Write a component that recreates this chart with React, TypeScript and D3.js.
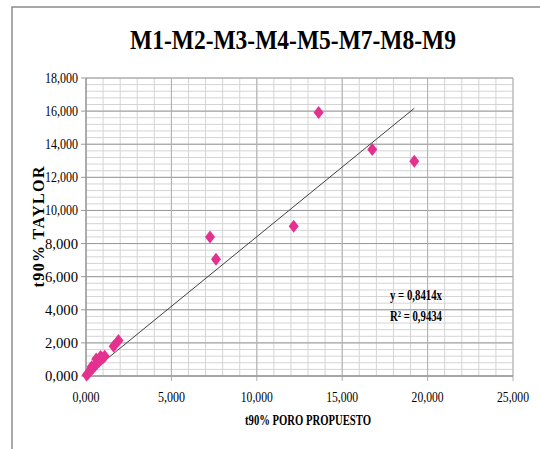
import React from "react";
import * as d3 from "d3";

const title = "M1-M2-M3-M4-M5-M7-M8-M9";
const xTitle = "t90% PORO PROPUESTO";
const yTitle = "t90% TAYLOR";
const xTicks = [0, 5000, 10000, 15000, 20000, 25000];
const yTicks = [0, 2000, 4000, 6000, 8000, 10000, 12000, 14000, 16000, 18000];
const xPoro = [40, 120, 200, 300, 330, 420, 520, 600, 640, 760, 850, 880, 1000, 1100, 1620, 1900, 7260, 7610, 12160, 13620, 16760, 19220];
const yTaylor = [60, 150, 250, 380, 560, 500, 620, 1020, 750, 880, 1180, 1000, 1100, 1200, 1800, 2150, 8390, 7050, 9050, 15920, 13680, 12970];
const slope = 0.8414;
const eqText = ["y = 0,8414x", "R² = 0,9434"];

const fmt = (v: number) => d3.format(",.3f")(v / 1000).replace(".", ",");

export default function App() {
  const W = 540, H = 449;
  const left = 86, right = 513, top = 78, bottom = 376;
  const x = d3.scaleLinear().domain([0, 25000]).range([left, right]);
  const y = d3.scaleLinear().domain([0, 18000]).range([bottom, top]);
  const minorX = d3.range(0, 25001, 1000);
  const minorY = d3.range(0, 18001, 400);
  const font = "'Liberation Serif', 'Times New Roman', serif";
  const maxX = d3.max(xPoro) as number;
  const diamond = (cx: number, cy: number) =>
    `M${cx},${cy - 6.5}L${cx + 5},${cy}L${cx},${cy + 6.5}L${cx - 5},${cy}Z`;
  return (
    <svg width={W} height={H} style={{ position: "absolute", left: 0, top: 0, background: "#fff" }} fontFamily={font}>
      <rect x={12} y={7} width={600} height={600} fill="#fff" stroke="#8c8c8c" strokeWidth={1.5} />
      <text x={293} y={48.5} textAnchor="middle" fontSize={28} fontWeight="bold" textLength={326} lengthAdjust="spacingAndGlyphs">{title}</text>
      {minorY.map((v) => (
        <line key={"my" + v} x1={left} x2={right} y1={y(v)} y2={y(v)} stroke="#d4d4d4" strokeWidth={1} />
      ))}
      {minorX.map((v) => (
        <line key={"mx" + v} x1={x(v)} x2={x(v)} y1={top} y2={bottom} stroke="#d4d4d4" strokeWidth={1} />
      ))}
      {yTicks.map((v) => (
        <line key={"gy" + v} x1={left - 5} x2={right} y1={y(v)} y2={y(v)} stroke="#9a9a9a" strokeWidth={1} />
      ))}
      {xTicks.map((v) => (
        <line key={"gx" + v} x1={x(v)} x2={x(v)} y1={top} y2={bottom + 5} stroke="#b0b0b0" strokeWidth={1} />
      ))}
      <line x1={left} x2={left} y1={top} y2={bottom} stroke="#8c8c8c" />
      <line x1={left} x2={right} y1={bottom} y2={bottom} stroke="#8c8c8c" />
      {yTicks.map((v) => (
        <text key={"ty" + v} x={78} y={y(v) + 5} textAnchor="end" fontSize={14.5} textLength={33} lengthAdjust="spacingAndGlyphs">{fmt(v)}</text>
      ))}
      {xTicks.map((v) => (
        <text key={"tx" + v} x={x(v)} y={402} textAnchor="middle" fontSize={14.5} textLength={v >= 10000 ? 32 : 27} lengthAdjust="spacingAndGlyphs">{fmt(v)}</text>
      ))}
      <text x={308} y={425} textAnchor="middle" fontSize={14} fontWeight="bold" textLength={126} lengthAdjust="spacingAndGlyphs">{xTitle}</text>
      <text transform={`translate(44,227) rotate(-90)`} textAnchor="middle" fontSize={16} fontWeight="bold" textLength={121} lengthAdjust="spacing">{yTitle}</text>
      <line x1={x(0)} y1={y(0)} x2={x(maxX)} y2={y(maxX * slope)} stroke="#404040" strokeWidth={1} />
      {xPoro.map((v, i) => (
        <path key={"p" + i} d={diamond(x(v), y(yTaylor[i]))} fill="#E4318F" />
      ))}
      <text x={390} y={300} fontSize={15} fontWeight="bold" textLength={52} lengthAdjust="spacingAndGlyphs">{eqText[0]}</text>
      <text x={390} y={321} fontSize={15} fontWeight="bold" textLength={52} lengthAdjust="spacingAndGlyphs">{eqText[1]}</text>
    </svg>
  );
}
